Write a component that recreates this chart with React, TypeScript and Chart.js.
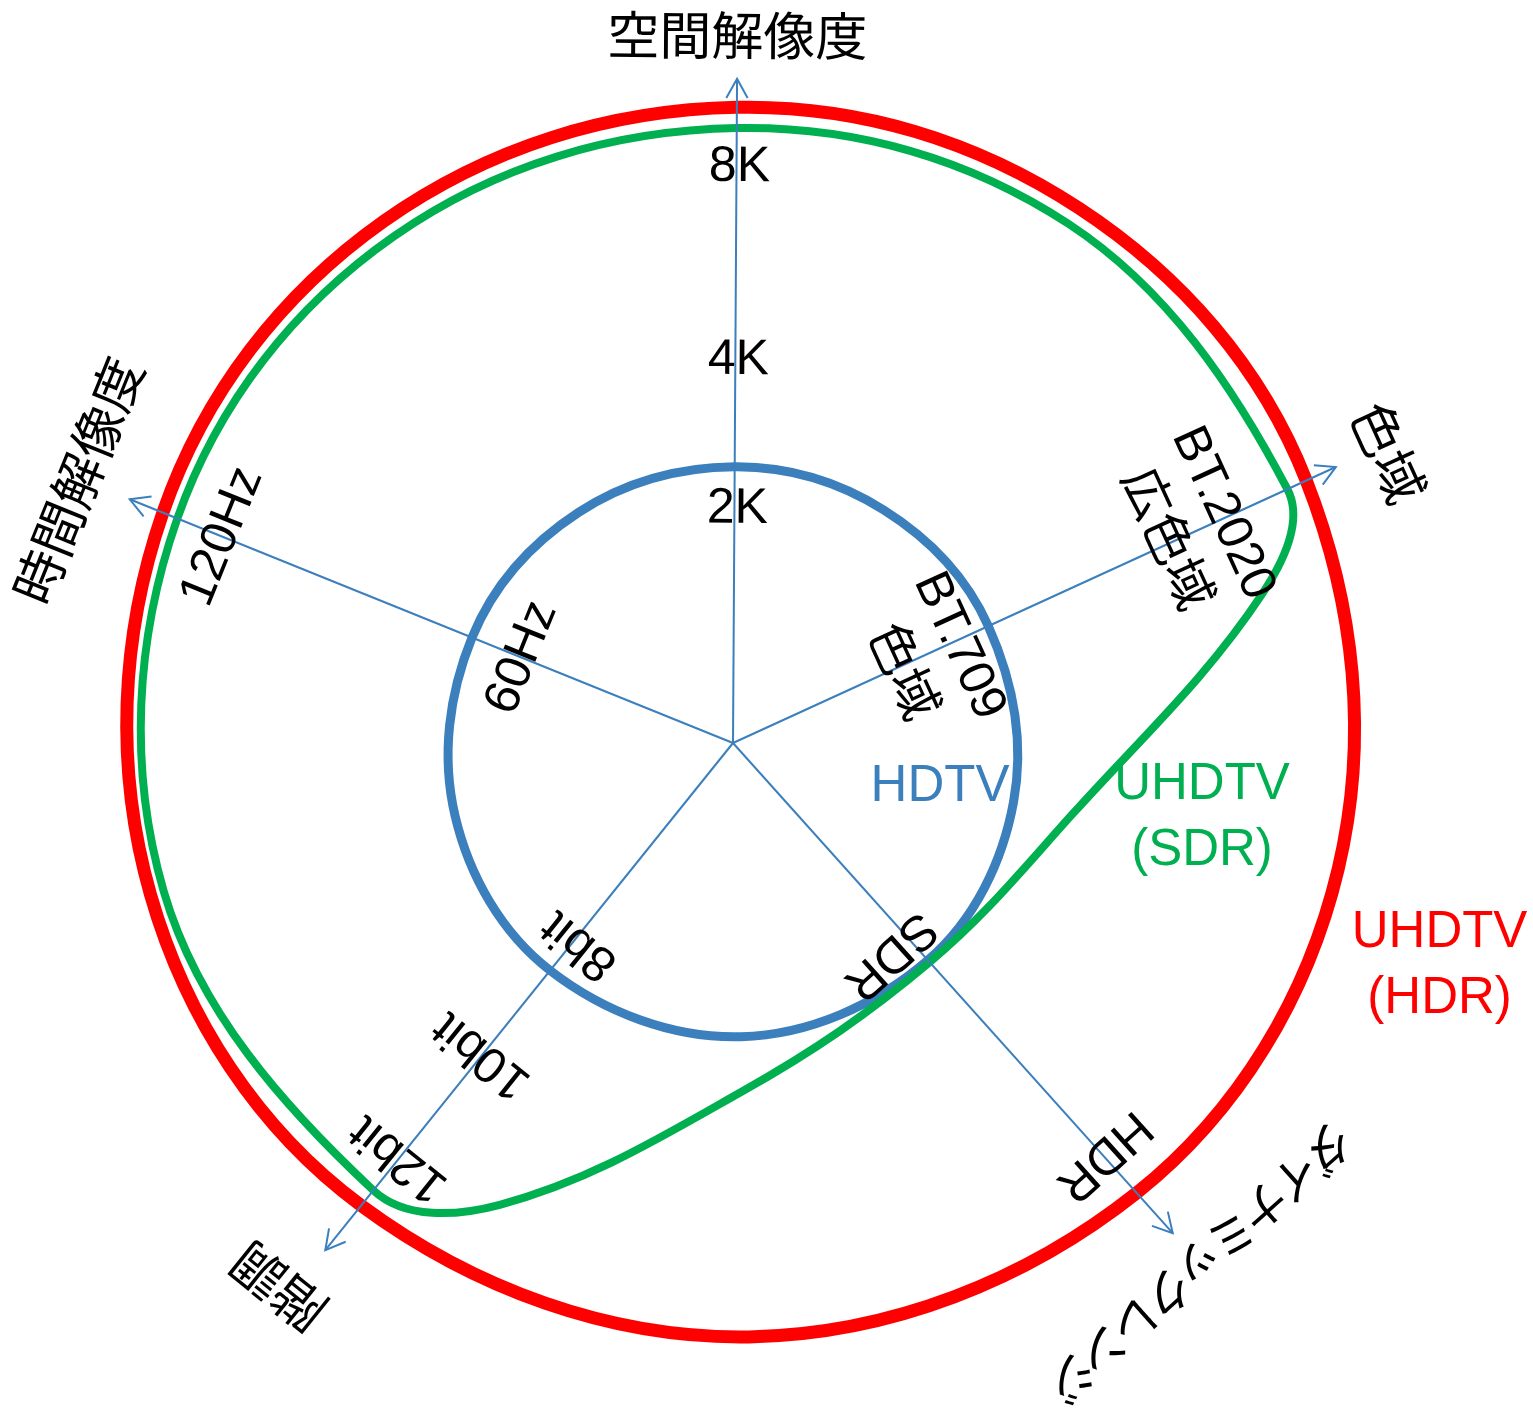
import React, { useEffect, useRef } from 'react';
import { Chart, registerables, RadialLinearScale } from 'chart.js';

Chart.register(...registerables);

// ---------------- data ----------------
// twelve directions: the five axes plus in-between directions (clockwise from top, degrees)
const directionLabels = ['空間解像度', '', '色域', '', '', 'ダイナミックレンジ', '', '', '階調', '', '時間解像度', ''];
const directionAngles = [0.35, 32.9, 65.4, 74.2, 101.75, 138.1, 178.45, 206.8, 218.8, 255.4, 292.0, 326.2];
const axisIndices = [0, 2, 5, 8, 10];
const axisTitles = ['空間解像度', '色域', 'ダイナミックレンジ', '階調', '時間解像度'];

const seriesNames = ['UHDTV\n(HDR)', 'UHDTV\n(SDR)', 'HDTV'];
const uhdtvHdr = [97.8, 98.0, 97.0, null, 95.1, 93.0, 91.4, null, 91.3, 92.6, 94.6, 96.6];
const uhdtvSdr = [94.6, 95.1, 93.8, 84.7, 53.4, 45.3, 53.6, 79.6, 88.3, 90.5, 92.2, 93.8];
const hdtv = [42.5, 42.7, 43.2, null, 44.1, 44.9, 45.2, null, 44.9, 44.2, 43.3, 42.7];

const spatialTicks = ['2K', '4K', '8K'];
const spatialTickValues = [36.0, 58.9, 88.6];
const gamutTicks = ['BT.709\n色域', 'BT.2020\n広色域'];
const gamutTickValues = [32.9, 78.3];
const rangeTicks = ['SDR', 'HDR'];
const rangeTickValues = [40.4, 85.3];
const depthTicks = ['8bit', '10bit', '12bit'];
const depthTickValues = [39.0, 61.6, 82.0];
const temporalTicks = ['60Hz', '120Hz'];
const temporalTickValues = [35.0, 84.7];

// ---------------- layout / style ----------------
const BLUE = '#3b7fbd';
const GREEN = '#00b050';
const RED = '#ff0000';
const AXIS_TIP = [102.2, 102.0, 101.3, 100.1, 100.1];
const TITLE_DIST = [108.9, 110.3, 107.7, 109.1, 108.6];
const TITLE_SHIFT = [0, 9, -2, 13, -2];
const TICK_SHIFT: Record<string, number> = {
  '2K': 3, '4K': 3, '8K': 3, SDR: 25, '8bit': -7, 'BT.709\n色域': 6, 'BT.2020\n広色域': -5,
};
const SERIES_LABEL_POS = [[108.7, 34.3], [72.15, 11.6], [31.85, 6.72]];
const SERIES_LABEL_COLORS = [RED, GREEN, BLUE];
const TITLE_FONT = '52px "Noto Sans CJK JP", sans-serif';
const TICK_FONT = '50px "Liberation Sans", "Noto Sans CJK JP", sans-serif';
const LABEL_FONT = '51px "Liberation Sans", sans-serif';

class AngledRadialScale extends RadialLinearScale {
  static id = 'angledRadial';
  getIndexAngle(index: number) {
    const a = directionAngles[index] ?? 0;
    return (a * Math.PI) / 180;
  }
}
Chart.register(AngledRadialScale);

function drawAlongAxis(
  ctx: CanvasRenderingContext2D, scale: any, idx: number, value: number, shift: number,
  text: string, font: string, color: string, lineHeight: number, spacing = 0,
) {
  const p = scale.getPointPositionForValue(idx, value);
  const theta = (directionAngles[idx] * Math.PI) / 180;
  ctx.save();
  ctx.translate(p.x + shift * Math.cos(theta), p.y + shift * Math.sin(theta));
  ctx.rotate(theta);
  ctx.font = font;
  ctx.fillStyle = color;
  ctx.textAlign = 'center';
  ctx.textBaseline = 'middle';
  (ctx as any).letterSpacing = spacing + 'px';
  const lines = text.split('\n');
  lines.forEach((ln, i) => ctx.fillText(ln, 0, (i - (lines.length - 1) / 2) * lineHeight));
  ctx.restore();
}

const overlayPlugin = {
  id: 'overlay',
  afterDatasetsDraw(chart: any) {
    const scale = chart.scales.r;
    const ctx: CanvasRenderingContext2D = chart.ctx;
    const cx = scale.xCenter;
    const cy = scale.yCenter;
    const unit = scale.drawingArea / (scale.max - scale.min);

    // axes with open arrow heads
    ctx.save();
    ctx.strokeStyle = BLUE;
    ctx.lineWidth = 2;
    axisIndices.forEach((idx, k) => {
      const tip = scale.getPointPositionForValue(idx, AXIS_TIP[k]);
      ctx.beginPath();
      ctx.moveTo(cx, cy);
      ctx.lineTo(tip.x, tip.y);
      ctx.stroke();
      const ang = Math.atan2(tip.y - cy, tip.x - cx);
      const L = 22;
      const spread = (29 * Math.PI) / 180;
      ctx.beginPath();
      ctx.moveTo(tip.x - L * Math.cos(ang - spread), tip.y - L * Math.sin(ang - spread));
      ctx.lineTo(tip.x, tip.y);
      ctx.lineTo(tip.x - L * Math.cos(ang + spread), tip.y - L * Math.sin(ang + spread));
      ctx.stroke();
    });
    ctx.restore();

    // axis titles
    axisIndices.forEach((idx, k) => {
      const isLong = axisTitles[k].length > 6;
      drawAlongAxis(ctx, scale, idx, TITLE_DIST[k], TITLE_SHIFT[k], axisTitles[k],
        isLong ? '48px "Noto Sans CJK JP", sans-serif' : TITLE_FONT, '#000', 60, isLong ? -5 : 0);
    });

    // tick labels on each axis
    const tickGroups: [number, string[], number[]][] = [
      [axisIndices[0], spatialTicks, spatialTickValues],
      [axisIndices[1], gamutTicks, gamutTickValues],
      [axisIndices[2], rangeTicks, rangeTickValues],
      [axisIndices[3], depthTicks, depthTickValues],
      [axisIndices[4], temporalTicks, temporalTickValues],
    ];
    tickGroups.forEach(([idx, texts, values]) => {
      texts.forEach((t, i) => {
        drawAlongAxis(ctx, scale, idx, values[i], TICK_SHIFT[t] ?? 0, t, TICK_FONT, '#000', 64);
      });
    });

    // series labels
    ctx.save();
    ctx.font = LABEL_FONT;
    ctx.textAlign = 'center';
    ctx.textBaseline = 'middle';
    seriesNames.forEach((name, i) => {
      const [dx, dy] = SERIES_LABEL_POS[i];
      const lines = name.split('\n');
      ctx.fillStyle = SERIES_LABEL_COLORS[i];
      lines.forEach((ln, j) => {
        ctx.fillText(ln, cx + dx * unit, cy + dy * unit + (j - (lines.length - 1) / 2) * 66);
      });
    });
    ctx.restore();
  },
};

export default function App() {
  const ref = useRef<HTMLCanvasElement>(null);
  useEffect(() => {
    const common = { fill: false, pointRadius: 0, clip: false, spanGaps: true };
    const chart = new Chart(ref.current as HTMLCanvasElement, {
      type: 'radar',
      data: {
        labels: directionLabels,
        datasets: [
          { ...common, label: seriesNames[0], data: uhdtvHdr, borderColor: RED, borderWidth: 13, tension: 0.36 } as any,
          { ...common, label: seriesNames[1], data: uhdtvSdr, borderColor: GREEN, borderWidth: 8, tension: 0.36 } as any,
          { ...common, label: seriesNames[2], data: hdtv, borderColor: BLUE, borderWidth: 9, tension: 0.36 } as any,
        ],
      },
      options: {
        responsive: true,
        maintainAspectRatio: false,
        animation: false,
        events: [],
        layout: { padding: { left: 83, top: 93, right: 150, bottom: 16 } },
        plugins: { legend: { display: false }, tooltip: { enabled: false }, title: { display: false } },
        scales: {
          r: {
            type: 'angledRadial',
            min: 0,
            max: 100,
            grid: { display: false },
            angleLines: { display: false },
            ticks: { display: false },
            pointLabels: { display: false },
          } as any,
        },
      },
      plugins: [overlayPlugin],
    });
    return () => chart.destroy();
  }, []);
  return (
    <div style={{ position: 'absolute', left: 0, top: 0, width: 1533, height: 1409, background: '#fff' }}>
      <canvas ref={ref} />
    </div>
  );
}
